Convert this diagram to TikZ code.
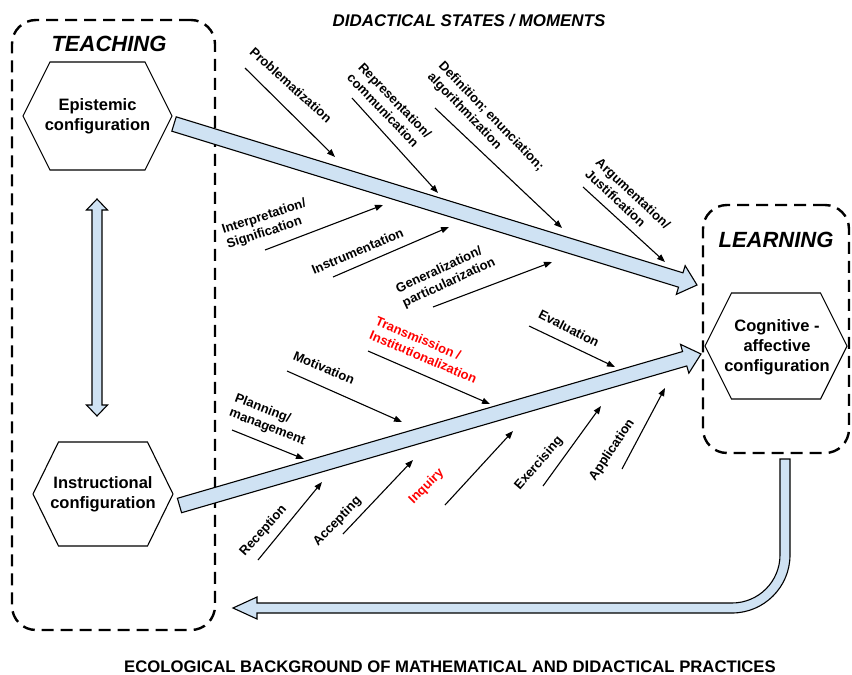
\documentclass[tikz,border=0pt]{standalone}
\usepackage{fontspec}
\setmainfont{Liberation Sans}
\usetikzlibrary{arrows.meta,calc}
\definecolor{lb}{HTML}{CFE2F3}
\definecolor{redlab}{HTML}{FF0000}
\newcommand{\fatarrow}[5]{%
  \coordinate (hb) at ($(#2)!#5!(#1)$);
  \draw[bigarrow] ($(#1)!#3!90:(#2)$) -- ($(hb)!#3!90:(#2)$) -- ($(hb)!#4!90:(#2)$) -- (#2)
     -- ($(hb)!#4!-90:(#2)$) -- ($(hb)!#3!-90:(#2)$) -- ($(#1)!#3!-90:(#2)$) -- cycle;}
\begin{document}
\begin{tikzpicture}[x=1pt,y=-1pt,
  dashbox/.style={draw, line width=2.4pt, dash pattern=on 12pt off 7pt, rounded corners=24pt, inner sep=0pt},
  bigarrow/.style={draw=black, line width=1.1pt, fill=lb, line join=miter},
  thinarr/.style={draw, line width=1.1pt, -{Triangle[length=8pt,width=6pt]}},
  lab/.style={font=\fontsize{13}{15.5}\selectfont\bfseries, align=left, inner sep=0pt},
  redlab/.style={lab, text=redlab},
  hexlab/.style={font=\fontsize{16.5}{20}\selectfont\bfseries, align=center, inner sep=0pt},
  hexline/.style={draw, line width=1.1pt, line join=miter},
  bigtitle/.style={font=\fontsize{22}{26}\selectfont\bfseries\itshape, inner sep=0pt},
  toptitle/.style={font=\fontsize{16.9}{20}\selectfont\bfseries\itshape, inner sep=0pt},
  bottitle/.style={font=\fontsize{16.7}{20}\selectfont\bfseries, inner sep=0pt}]
\useasboundingbox (0,0) rectangle (852,675);

% containers
\node[dashbox, minimum width=203pt, minimum height=610pt] (teachbox) at (113.5,325) {};
\node[dashbox, minimum width=146pt, minimum height=248pt] (learnbox) at (776,329) {};
\node[bigtitle] (teach) at (109,44) {TEACHING};
\node[bigtitle] (learn) at (776,240) {LEARNING};
\node[toptitle] (states) at (469,21) {DIDACTICAL STATES / MOMENTS};
\node[bottitle] (ecol) at (450,667) {ECOLOGICAL BACKGROUND OF MATHEMATICAL AND DIDACTICAL PRACTICES};

% hexagons
\node[hexlab] (epi) at (97.5,116) {Epistemic\\configuration};
\draw[hexline] ($(epi)+(-74.5,0)$) -- ($(epi)+(-47.5,-54)$) -- ($(epi)+(47.5,-54)$) -- ($(epi)+(74.5,0)$)
  -- ($(epi)+(47.5,54)$) -- ($(epi)+(-47.5,54)$) -- cycle;
\node[hexlab] (ins) at (103,494) {Instructional\\configuration};
\draw[hexline] ($(ins)+(-70,0)$) -- ($(ins)+(-44.5,-52)$) -- ($(ins)+(44.5,-52)$) -- ($(ins)+(70,0)$)
  -- ($(ins)+(44.5,52)$) -- ($(ins)+(-44.5,52)$) -- cycle;
\node[hexlab] (cog) at (777,347) {Cognitive -\\affective\\configuration};
\draw[hexline] ($(cog)+(-72,-1)$) -- ($(cog)+(-45.5,-54)$) -- ($(cog)+(43.5,-54)$) -- ($(cog)+(70,-1)$)
  -- ($(cog)+(43.5,52)$) -- ($(cog)+(-45.5,52)$) -- cycle;

% big arrows
\coordinate (eA) at (174,124);
\coordinate (eB) at (697,285);
\fatarrow{eA}{eB}{7.5pt}{15pt}{17pt}
\coordinate (iA) at (179.5,505.5);
\coordinate (iB) at (701,354);
\fatarrow{iA}{iB}{7.5pt}{15pt}{17pt}

% double vertical arrow
\coordinate (dT) at (97,199);
\coordinate (dB) at (97,416);
\draw[bigarrow] (dT) -- (107.5,210) -- (102,210) -- (102,405) -- (107.5,405) -- (dB)
  -- (86.5,405) -- (92,405) -- (92,210) -- (86.5,210) -- cycle;

% feedback arrow
\coordinate (fbT) at (233,608);
\draw[bigarrow] (780,459) -- (790,459) -- (790,555) arc[start angle=0,end angle=-90,radius=58pt]
  -- (257,613) -- (257,619) -- (fbT) -- (257,597) -- (257,603) -- (732,603)
  arc[start angle=-90,end angle=0,radius=48pt] -- cycle;

% thin arrows
\coordinate (s1) at (245,68);   \coordinate (t1) at (335,157);
\coordinate (s2) at (352,98);   \coordinate (t2) at (438,193);
\coordinate (s3) at (435,108);  \coordinate (t3) at (562,228);
\coordinate (s4) at (583,187);  \coordinate (t4) at (665,262);
\coordinate (s5) at (265,250);  \coordinate (t5) at (383,205);
\coordinate (s6) at (333,277);  \coordinate (t6) at (449,227);
\coordinate (s7) at (433,307);  \coordinate (t7) at (552,262);
\coordinate (s8) at (368,351);  \coordinate (t8) at (490,404);
\coordinate (s9) at (287,371);  \coordinate (t9) at (402,422);
\coordinate (s10) at (232,430); \coordinate (t10) at (304,459);
\coordinate (s11) at (529,326); \coordinate (t11) at (615,367);
\coordinate (s12) at (258,560); \coordinate (t12) at (322,482);
\coordinate (s13) at (343,534); \coordinate (t13) at (413,460);
\coordinate (s14) at (445,505); \coordinate (t14) at (513,431);
\coordinate (s15) at (543,486); \coordinate (t15) at (601,406);
\coordinate (s16) at (622,469); \coordinate (t16) at (665,388);
\foreach \i in {1,...,16} {\draw[thinarr] (s\i) -- (t\i);}

% labels
\node[lab, rotate=-42] (l1) at (291,85) {Problematization};
\node[lab, rotate=-46] (l2) at (389.5,105.7) {Representation/\\communication};
\node[lab, rotate=-46] (l3) at (485.4,122) {Definition; enunciation;\\algorithmization};
\node[lab, rotate=-43] (l4) at (628,199) {Argumentation/\\Justification};
\node[lab, rotate=18] (l5) at (266.5,224.5) {Interpretation/\\Signification};
\node[lab, rotate=23] (l6) at (357.5,251) {Instrumentation};
\node[lab, rotate=25] (l7) at (445.8,276) {Generalization/\\particularization};
\node[redlab, rotate=-23] (l8) at (426.3,349.8) {Transmission /\\Institutionalization};
\node[lab, rotate=-23] (l9) at (324,367.5) {Motivation};
\node[lab, rotate=-21] (l10) at (270,420) {Planning/\\management};
\node[lab, rotate=-27] (l11) at (569,328.5) {Evaluation};
\node[lab, rotate=48] (l12) at (263.5,531) {Reception};
\node[lab, rotate=46] (l13) at (337.5,521.5) {Accepting};
\node[redlab, rotate=45] (l14) at (426.5,486.5) {Inquiry};
\node[lab, rotate=49] (l15) at (539,463.5) {Exercising};
\node[lab, rotate=56] (l16) at (612,450) {Application};
\end{tikzpicture}
\end{document}
